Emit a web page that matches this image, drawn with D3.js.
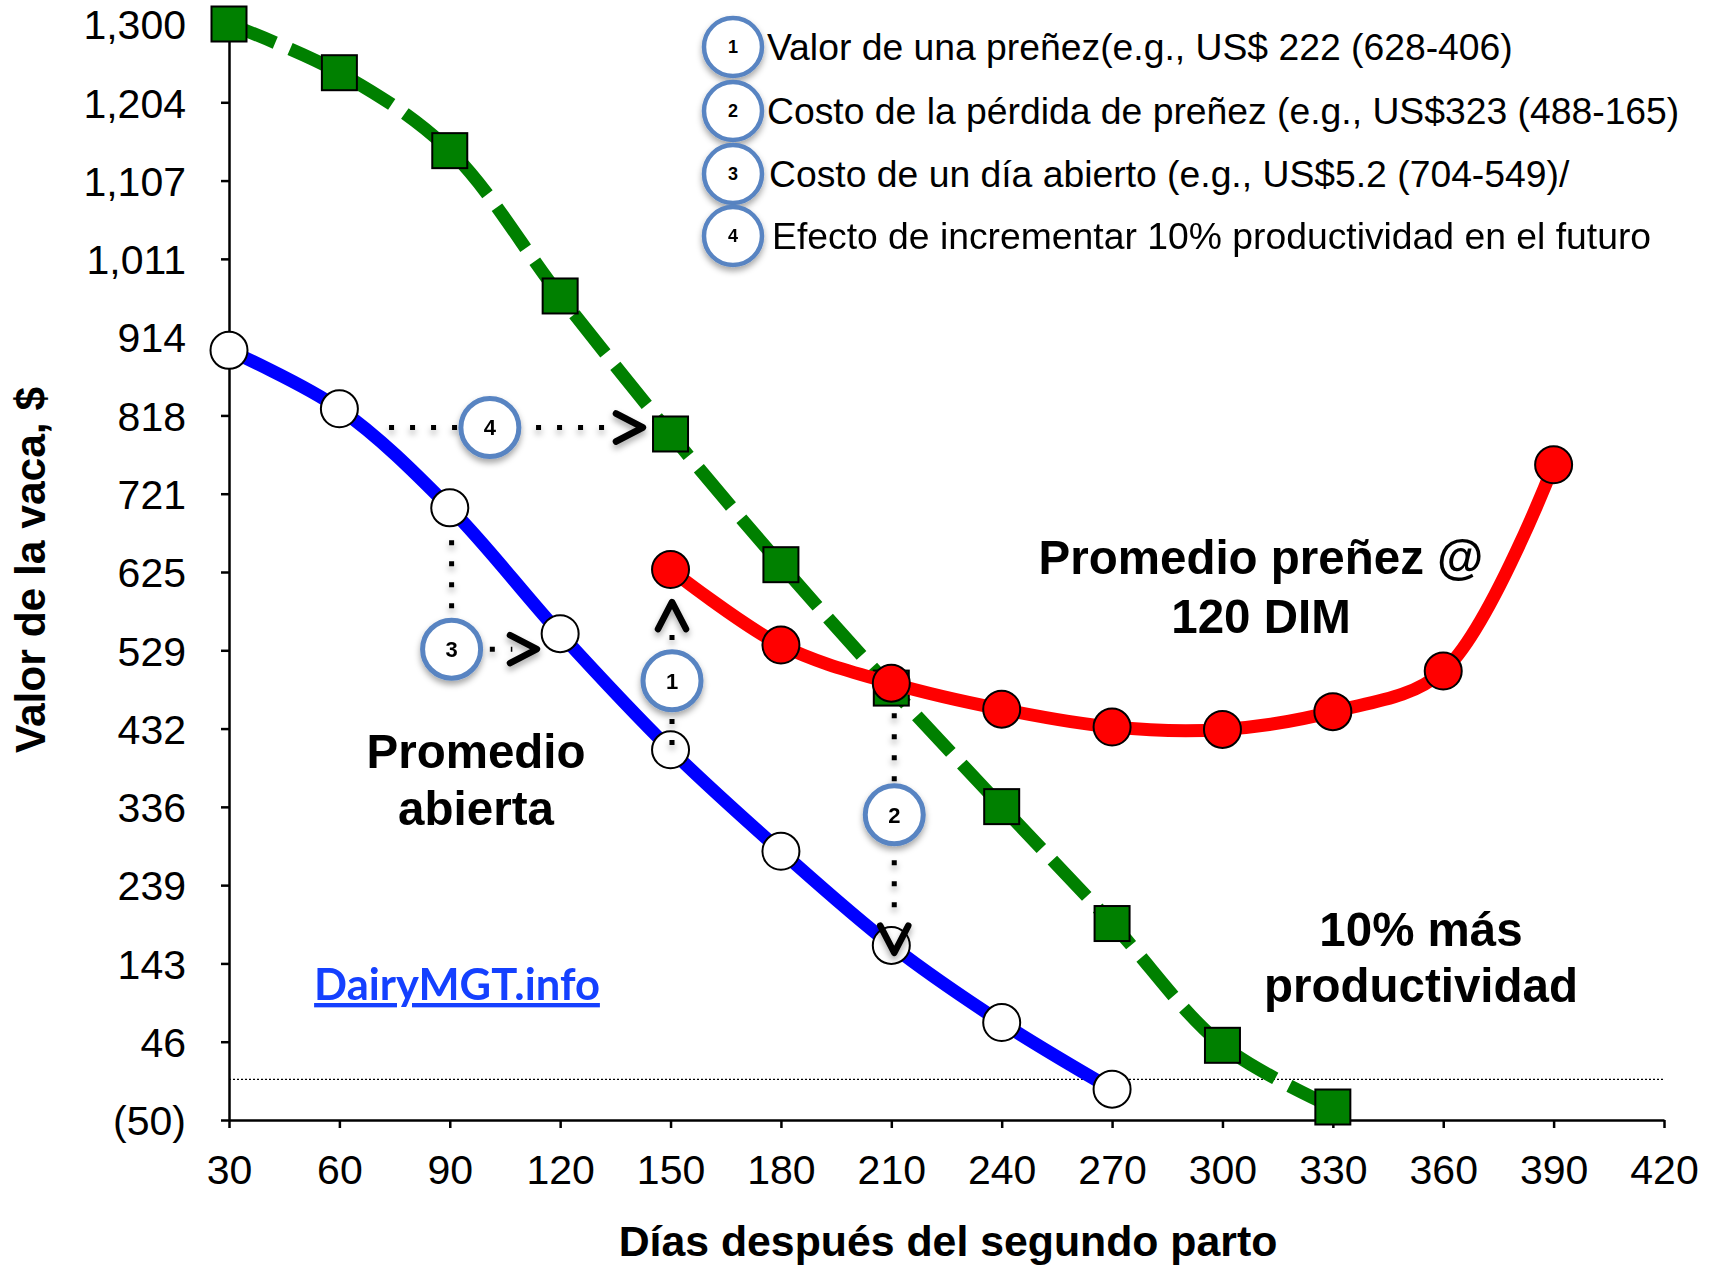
<!DOCTYPE html>
<html>
<head>
<meta charset="utf-8">
<script src="https://cdn.jsdelivr.net/npm/d3@7"></script>
<style>
  html, body { margin: 0; padding: 0; background: #fff; }
  svg { display: block; }
</style>
</head>
<body>
<svg id="chart" width="1719" height="1268"></svg>
<script>
// ---- Data -------------------------------------------------------------
// Cow value ($) by days after second calving
const openDays   = [30, 60, 90, 120, 150, 180, 210, 240, 270];
const openValues = [898, 826, 704, 549, 406, 281, 165, 70, -12];

const pregDays   = [150, 180, 210, 240, 270, 300, 330, 360, 390];
const pregValues = [628, 535, 488, 456, 434, 431, 453, 503, 757];

const prodDays   = [30, 60, 90, 120, 150, 180, 210, 240, 270, 300, 330];
const prodValues = [1300, 1240, 1144, 965, 795, 634, 482, 336, 192, 42, -34];

const xTickValues = [30, 60, 90, 120, 150, 180, 210, 240, 270, 300, 330, 360, 390, 420];
const yTickValues = [-50, 46.43, 142.86, 239.29, 335.71, 432.14, 528.57, 625,
                     721.43, 817.86, 914.29, 1010.71, 1107.14, 1203.57, 1300];
const yTickLabels = ["(50)", "46", "143", "239", "336", "432", "529", "625",
                     "721", "818", "914", "1,011", "1,107", "1,204", "1,300"];

const legendItems = [
  "Valor de una preñez(e.g., US$ 222 (628-406)",
  "Costo de la pérdida de preñez (e.g., US$323 (488-165)",
  "Costo de un día abierto (e.g., US$5.2 (704-549)/",
  "Efecto de incrementar 10% productividad en el futuro"
];

// ---- Layout -----------------------------------------------------------
const svg = d3.select("#chart");
const FONT = "'Liberation Sans', Arial, Helvetica, sans-serif";

const x = d3.scaleLinear().domain([30, 420]).range([229, 1664]);
const y = d3.scaleLinear().domain([-50, 1300]).range([1120, 24]);

const defs = svg.append("defs");
const sh = defs.append("filter").attr("id", "shadow")
  .attr("x", "-60%").attr("y", "-60%").attr("width", "220%").attr("height", "220%");
sh.append("feDropShadow").attr("dx", 0).attr("dy", 4).attr("stdDeviation", 3)
  .attr("flood-color", "#000").attr("flood-opacity", 0.35);

// zero reference line
svg.append("line")
  .attr("x1", x(30)).attr("x2", x(420))
  .attr("y1", y(0)).attr("y2", y(0))
  .attr("stroke", "#000").attr("stroke-width", 1.3)
  .attr("stroke-dasharray", "2,2");

// ---- Axes -------------------------------------------------------------
const yAxis = d3.axisLeft(y)
  .tickValues(yTickValues)
  .tickFormat((d, i) => yTickLabels[i])
  .tickSize(8).tickPadding(35).tickSizeOuter(0);
const gy = svg.append("g").attr("transform", `translate(${x(30)},0)`).call(yAxis);

const xAxis = d3.axisBottom(x)
  .tickValues(xTickValues)
  .tickFormat(d3.format("d"))
  .tickSize(8).tickPadding(27).tickSizeOuter(0);
const gx = svg.append("g").attr("transform", `translate(0,${y(-50)})`).call(xAxis);

[gx, gy].forEach(g => {
  g.select(".domain").attr("stroke", "#000").attr("stroke-width", 2.5);
  g.selectAll(".tick line").attr("stroke", "#000").attr("stroke-width", 2.5);
  g.selectAll(".tick text").attr("fill", "#000")
    .style("font-family", FONT).style("font-size", "41px");
});
gy.selectAll(".tick text").attr("dy", "0.36em");

// axis titles
svg.append("text")
  .attr("x", 948).attr("y", 1256)
  .attr("text-anchor", "middle")
  .style("font-family", FONT).style("font-weight", "bold").style("font-size", "42.8px")
  .text("Días después del segundo parto");

svg.append("text")
  .attr("transform", "translate(45,570) rotate(-90)")
  .attr("text-anchor", "middle")
  .style("font-family", FONT).style("font-weight", "bold").style("font-size", "42.5px")
  .text("Valor de la vaca, $");

// ---- Series -----------------------------------------------------------
const line = d3.line()
  .x(d => x(d[0])).y(d => y(d[1]))
  .curve(d3.curveCatmullRom.alpha(0.5));

const prodPts = prodDays.map((d, i) => [d, prodValues[i]]);
const pregPts = pregDays.map((d, i) => [d, pregValues[i]]);
const openPts = openDays.map((d, i) => [d, openValues[i]]);

// 10% more productivity (dashed green, squares)
svg.append("path").datum(prodPts)
  .attr("d", line).attr("fill", "none")
  .attr("stroke", "#008000").attr("stroke-width", 13)
  .attr("stroke-dasharray", "50,16");
const sq = 35;
svg.selectAll(".prod").data(prodPts).enter().append("rect")
  .attr("x", d => x(d[0]) - sq / 2).attr("y", d => y(d[1]) - sq / 2)
  .attr("width", sq).attr("height", sq)
  .attr("fill", "#008000").attr("stroke", "#000").attr("stroke-width", 2);

// pregnant at 120 DIM (red)
svg.append("path").datum(pregPts)
  .attr("d", line).attr("fill", "none")
  .attr("stroke", "#ff0000").attr("stroke-width", 13);
svg.selectAll(".preg").data(pregPts).enter().append("circle")
  .attr("cx", d => x(d[0])).attr("cy", d => y(d[1])).attr("r", 18.5)
  .attr("fill", "#ff0000").attr("stroke", "#000").attr("stroke-width", 2);

// open (blue)
svg.append("path").datum(openPts)
  .attr("d", line).attr("fill", "none")
  .attr("stroke", "#0000ff").attr("stroke-width", 13);
svg.selectAll(".open").data(openPts).enter().append("circle")
  .attr("cx", d => x(d[0])).attr("cy", d => y(d[1])).attr("r", 18.5)
  .attr("fill", "#fff").attr("stroke", "#000").attr("stroke-width", 2);

// ---- Annotations ------------------------------------------------------
const CALLOUT_BLUE = "#5884c2";

// dotted guides [day, value] pairs
const guides = [
  [[73.5, 803], [132.5, 803]],            // 4: open @60 -> +10% @150
  [[90.5, 664], [90.5, 530], [107, 530]], // 3: open @90 -> open @120
  [[150.4, 412], [150.4, 552]],           // 1: open @150 -> pregnant @150
  [[210.8, 451], [210.8, 196]]            // 2: pregnant @210 -> open @210
];
const arrows = [
  { day: 142.5, val: 803, dir: "right" },
  { day: 113.7, val: 530, dir: "right" },
  { day: 150.4, val: 588, dir: "up" },
  { day: 210.8, val: 156, dir: "down" }
];
const callouts = [
  { n: "4", day: 100.9, val: 803 },
  { n: "3", day: 90.5, val: 530 },
  { n: "1", day: 150.4, val: 491 },
  { n: "2", day: 210.8, val: 326 }
];

const gAnn = svg.append("g").attr("filter", "url(#shadow)");
const dotLine = d3.line().x(d => x(d[0])).y(d => y(d[1]));
gAnn.selectAll(".guide").data(guides).enter().append("path")
  .attr("d", dotLine).attr("fill", "none")
  .attr("stroke", "#000").attr("stroke-width", 5)
  .attr("stroke-dasharray", "5,16");

const rot = { right: 0, down: 90, left: 180, up: -90 };
gAnn.selectAll(".arrow").data(arrows).enter().append("path")
  .attr("transform", d => `translate(${x(d.day)},${y(d.val)}) rotate(${rot[d.dir]})`)
  .attr("d", "M-27,-14 L0,0 L-27,14")
  .attr("fill", "none").attr("stroke", "#000").attr("stroke-width", 6.5)
  .attr("stroke-linecap", "round").attr("stroke-linejoin", "round");

const co = gAnn.selectAll(".callout").data(callouts).enter().append("g")
  .attr("transform", d => `translate(${x(d.day)},${y(d.val)})`);
co.append("circle").attr("r", 29)
  .attr("fill", "#fff").attr("stroke", CALLOUT_BLUE).attr("stroke-width", 5);
co.append("text").attr("text-anchor", "middle").attr("dy", "0.36em")
  .style("font-family", FONT).style("font-weight", "bold").style("font-size", "22px")
  .text(d => d.n);

// legend of numbered notes
const lg = svg.append("g");
const legendY = [47, 111, 174, 236];
const legendTextX = [767, 767, 769, 772];
legendItems.forEach((t, i) => {
  const g = lg.append("g");
  g.append("circle").attr("cx", 733).attr("cy", legendY[i]).attr("r", 29)
    .attr("fill", "#fff").attr("stroke", CALLOUT_BLUE).attr("stroke-width", 4.5)
    .attr("filter", "url(#shadow)");
  g.append("text").attr("x", 733).attr("y", legendY[i]).attr("dy", "0.36em")
    .attr("text-anchor", "middle")
    .style("font-family", FONT).style("font-weight", "bold").style("font-size", "18px")
    .text(String(i + 1));
  g.append("text").attr("x", legendTextX[i]).attr("y", legendY[i]).attr("dy", "0.36em")
    .style("font-family", FONT).style("font-size", "37.3px")
    .text(t);
});

// series labels
function label(lines, cx, baselines, size) {
  lines.forEach((t, i) => {
    svg.append("text").attr("x", cx).attr("y", baselines[i])
      .attr("text-anchor", "middle")
      .style("font-family", FONT).style("font-weight", "bold").style("font-size", size + "px")
      .text(t);
  });
}
label(["Promedio", "abierta"], 476, [768, 825], 47.5);
label(["Promedio preñez @", "120 DIM"], 1261, [574, 633], 47.5);
label(["10% más", "productividad"], 1421, [946, 1002], 47.5);

// site link
svg.append("text")
  .attr("x", 457).attr("y", 1000).attr("text-anchor", "middle")
  .style("font-family", "Lato, 'Open Sans', sans-serif").style("font-weight", "bold")
  .style("font-size", "43.5px").style("text-decoration", "underline")
  .attr("fill", "#1440ff")
  .text("DairyMGT.info");
</script>
</body>
</html>
